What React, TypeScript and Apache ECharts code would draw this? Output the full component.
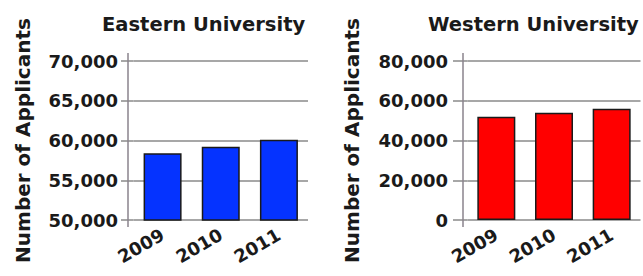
import React, { useEffect, useRef } from "react";
import * as echarts from "echarts";

const categories = ["2009", "2010", "2011"];
const easternValues = [58400, 59200, 60100];
const westernValues = [52000, 54000, 56000];
const easternTicks = [50000, 55000, 60000, 65000, 70000];
const westernTicks = [0, 20000, 40000, 60000, 80000];
const titles = ["Eastern University", "Western University"];
const axisName = "Number of Applicants";

const FONT = "DejaVu Sans";
const AXIS_COLOR = "#8a838c";
const GRID_COLOR = "#8a8a8a";

export default function App() {
  const ref = useRef<HTMLDivElement>(null);
  useEffect(() => {
    if (!ref.current) return;
    const chart = echarts.init(ref.current, undefined, { renderer: "svg" });
    // plot areas (category bands), the y-axis line position and where grid lines begin
    const grids = [
      { left: 133.5, top: 61, width: 174.5, height: 159 },
      { left: 467.5, top: 61, width: 173, height: 159 },
    ];
    const axisX = [128, 463];
    const lineStart = [121, 453];
    const ticksList = [easternTicks, westernTicks];
    const labelRight = [118, 448];
    const nameRight = [33, 362];
    const colors = ["#0533ff", "#ff0000"];
    const seriesData = [easternValues, westernValues];
    const titleLefts = [102, 428];

    const option: any = {
      animation: false,
      backgroundColor: "#ffffff",
      title: titles.map((t, i) => ({
        text: t,
        left: titleLefts[i],
        top: 14,
        padding: 0,
        textStyle: { fontFamily: FONT, fontSize: 19.5, fontWeight: "bold", color: "#1a1a1a" },
      })),
      grid: grids.map((g) => ({ ...g, containLabel: false })),
      xAxis: grids.map((_, i) => ({
        type: "category",
        gridIndex: i,
        data: categories,
        axisLine: { show: false },
        axisTick: { show: false },
        axisLabel: {
          rotate: 30,
          margin: 13,
          fontFamily: FONT,
          fontSize: 18,
          fontWeight: "bold",
          color: "#1a1a1a",
        },
      })),
      yAxis: grids.map((g, i) => {
        const t = ticksList[i];
        const off = g.left - lineStart[i];
        return {
          type: "value",
          gridIndex: i,
          min: t[0],
          max: t[t.length - 1],
          interval: t[1] - t[0],
          offset: off,
          name: axisName,
          nameLocation: "middle",
          nameRotate: 90,
          nameGap: lineStart[i] - nameRight[i],
          nameTextStyle: { fontFamily: FONT, fontSize: 20, fontWeight: "bold", color: "#1a1a1a" },
          axisLine: { show: false },
          axisTick: { show: true, inside: true, length: off, lineStyle: { color: GRID_COLOR, width: 1.5 } },
          splitLine: { show: true, lineStyle: { color: GRID_COLOR, width: 1.5 } },
          axisLabel: {
            margin: lineStart[i] - labelRight[i],
            fontFamily: FONT,
            fontSize: 18,
            fontWeight: "bold",
            color: "#1a1a1a",
            formatter: (v: number) => v.toLocaleString("en-US"),
          },
        };
      }),
      series: seriesData.map((d, i) => ({
        type: "bar",
        xAxisIndex: i,
        yAxisIndex: i,
        data: d,
        barWidth: 38,
        itemStyle: { color: colors[i], borderColor: "#1a1a1a", borderWidth: 1.5 },
      })),
      graphic: grids.map((g, i) => ({
        type: "line",
        shape: { x1: axisX[i], y1: g.top - 8, x2: axisX[i], y2: g.top + g.height + 7 },
        style: { stroke: AXIS_COLOR, lineWidth: 1.5 },
        z: 10,
      })),
    };
    chart.setOption(option);
    return () => chart.dispose();
  }, []);
  return (
    <div
      ref={ref}
      style={{ position: "fixed", left: 0, top: 0, width: 643, height: 276, background: "#fff" }}
    />
  );
}
